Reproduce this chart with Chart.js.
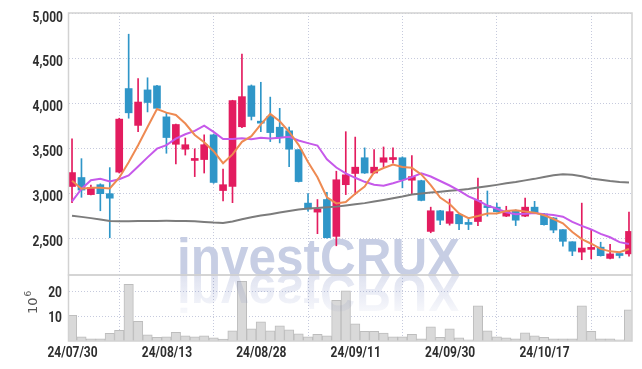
<!DOCTYPE html>
<html><head><meta charset="utf-8">
<script src="https://cdn.jsdelivr.net/npm/chart.js@4.4.0/dist/chart.umd.min.js"></script>
<style>
html,body{margin:0;padding:0;background:#fff;}
#wrap{position:relative;width:642px;height:369px;overflow:hidden;}
canvas{position:absolute;left:0;top:0;}
</style></head><body>
<div id="wrap"><canvas id="main" width="642" height="369"></canvas><canvas id="vol" width="642" height="369"></canvas></div>
<script>
// ---- data ----
const dates = ['24/07/30','24/07/31','24/08/01','24/08/02','24/08/05','24/08/06','24/08/07','24/08/08','24/08/09','24/08/12',
 '24/08/13','24/08/14','24/08/16','24/08/19','24/08/20','24/08/21','24/08/22','24/08/23','24/08/26','24/08/27',
 '24/08/28','24/08/29','24/08/30','24/09/02','24/09/03','24/09/04','24/09/05','24/09/06','24/09/09','24/09/10',
 '24/09/11','24/09/12','24/09/13','24/09/19','24/09/20','24/09/23','24/09/24','24/09/25','24/09/26','24/09/27',
 '24/09/30','24/10/02','24/10/04','24/10/07','24/10/08','24/10/10','24/10/11','24/10/14','24/10/15','24/10/16',
 '24/10/17','24/10/18','24/10/21','24/10/22','24/10/23','24/10/24','24/10/25','24/10/28','24/10/29','24/10/30'];
const dateTickIndex = [0,10,20,30,40,50];
const priceTicks = [2500,3000,3500,4000,4500,5000];
const volumeTicks = [10,20];

const open  = [3080,3180,2990,3100,3000,3240,4170,3760,4155,4200,3855,3550,3495,3370,3380,3655,3035,3080,3745,4200,
               3790,3860,3740,3700,3490,2895,2795,2935,2525,3100,3225,3400,3230,3350,3380,3400,3150,3145,2580,2810,
               2670,2770,2660,2690,2865,2850,2750,2805,2750,2850,2775,2730,2600,2465,2350,2380,2405,2280,2330,2330];
const high  = [3610,3390,3095,3110,3290,3840,4775,4280,4290,4205,3900,3775,3620,3500,3655,3660,3275,4040,4555,4210,
               4240,4075,3950,3740,3490,3000,2935,3015,3250,3690,3630,3510,3490,3520,3510,3410,3425,3150,2850,2815,
               2940,2775,2720,3175,3030,2895,2860,2820,2950,2915,2780,2735,2600,2465,2895,2600,2460,2435,2330,2795];
const low   = [2900,2960,2985,2810,2510,3230,3840,3690,3910,3945,3450,3330,3430,3190,3230,3115,2920,2900,3735,3820,
               3690,3580,3565,3300,3130,2805,2555,2505,2420,2990,2990,3225,3225,3300,3340,3065,2990,2920,2565,2655,
               2650,2600,2600,2645,2750,2795,2745,2645,2745,2780,2650,2565,2415,2310,2265,2275,2305,2275,2285,2305];
const close = [3235,3040,3070,3000,2950,3830,3900,4020,4015,3950,3625,3770,3545,3380,3545,3125,3100,4035,4080,3860,
               3785,3680,3625,3495,3135,2830,2830,2510,3155,3210,3295,3230,3295,3400,3400,3155,3190,2925,2810,2705,
               2800,2665,2658,2925,2845,2800,2805,2705,2850,2785,2655,2595,2470,2360,2395,2395,2310,2330,2312,2580];
const ma5   = [3144,3056,3065,3065,3059,3178,3350,3540,3743,3943,3902,3876,3781,3654,3573,3473,3339,3437,3577,3640,
               3772,3888,3806,3689,3544,3353,3183,2960,2892,2907,3000,3080,3237,3286,3324,3296,3288,3214,3096,2957,
               2886,2781,2728,2751,2779,2779,2807,2816,2801,2789,2760,2718,2671,2573,2495,2443,2386,2358,2348,2385];
const ma10  = [2915,3052,3150,3165,3137,3161,3203,3302,3404,3501,3540,3613,3661,3699,3758,3688,3608,3609,3616,3607,
               3623,3614,3622,3633,3592,3563,3536,3383,3291,3226,3177,3132,3099,3089,3116,3148,3184,3226,3191,3141,
               3091,3035,2971,2924,2868,2833,2794,2772,2776,2784,2770,2763,2744,2687,2642,2602,2552,2515,2461,2440];
const ma60  = [2755,2742,2728,2712,2697,2694,2694,2695,2696,2697,2698,2697,2695,2692,2685,2678,2675,2690,2715,2738,
               2756,2772,2790,2808,2825,2835,2842,2848,2856,2868,2882,2895,2912,2930,2950,2968,2990,3003,3012,3022,
               3032,3042,3053,3068,3082,3098,3115,3130,3148,3165,3185,3205,3215,3210,3195,3170,3155,3140,3130,3125];
const volume = [10.3,1.7,0.9,0.9,3.1,4.3,22.7,7.9,2.5,1.5, 1.7,3.5,2.1,1.7,2.1,1.3,0.8,4.1,23.9,4.9,
                7.7,4.1,6.1,4.5,2.9,1.7,2.7,2.1,16.3,20.1, 6.9,3.9,3.9,3.2,1.7,1.7,2.7,0.9,5.7,1.5,
                4.9,1.3,0.5,14.1,4.1,1.7,1.3,0.9,3.3,2.1, 1.5,0.9,0.9,0.9,14.1,3.9,0.9,0.9,0.5,12.5];

// ---- styling ----
const LABEL_FONT = "bold 15px Roboto, 'DejaVu Sans', sans-serif";
const SX = 0.8;
const RED = '#e31c5f', BLUE = '#2f96c8';
const GRID = '#c6cadd';
const FRAME = '#d2d2d2';
const X_MIN = -0.32, X_MAX = 59.32;
const LEFT_W = 69;
const candleColors = open.map((o,i) => close[i] >= o ? RED : BLUE);
const pts = arr => arr.map((v,i) => ({x:i, y:v}));

function drawLabel(ctx, text, x, y, align){
  ctx.save();
  ctx.font = LABEL_FONT; ctx.fillStyle = '#2e2e2e'; ctx.textBaseline = 'alphabetic'; ctx.textAlign = 'left';
  const w = ctx.measureText(text).width * SX;
  const left = align === 'right' ? x - w : align === 'center' ? x - w/2 : x;
  ctx.translate(left, y); ctx.scale(SX, 1);
  ctx.fillText(text, 0, 0);
  ctx.restore();
}

const frame = {
  id:'frame',
  afterDatasetsDraw(chart){
    const {ctx, chartArea:a} = chart;
    ctx.save();
    ctx.strokeStyle = FRAME; ctx.lineWidth = 1.5;
    ctx.strokeRect(a.left-0.5, a.top, a.right-a.left+0.5, a.bottom-a.top);
    ctx.restore();
  }
};

const mainLabels = {
  id:'mainLabels',
  afterDraw(chart){
    const y = chart.scales.y;
    priceTicks.forEach(v => {
      const py = y.getPixelForValue(v);
      drawLabel(chart.ctx, v.toLocaleString('en-US'), 63, py + (v === 5000 ? 8.5 : 7), 'right');
    });
  }
};

const watermark = {
  id:'watermark',
  beforeDatasetsDraw(chart){
    const {ctx, chartArea:a} = chart;
    ctx.save();
    ctx.beginPath(); ctx.rect(a.left, a.top, a.right-a.left, a.bottom-a.top); ctx.clip();
    ctx.font = "bold 51px 'Liberation Sans', Arial, sans-serif";
    ctx.fillStyle = '#c7cee4';
    ctx.textBaseline = 'alphabetic';
    ctx.translate(177, a.bottom); ctx.scale(0.97, 1);
    ctx.fillText('investCRUX', 0, 0);
    ctx.restore();
  }
};

const volDecor = {
  id:'volDecor',
  afterDatasetsDraw(chart){
    const {ctx, chartArea:a} = chart;
    ctx.save();
    ctx.beginPath(); ctx.rect(a.left, a.top, a.right-a.left, a.bottom-a.top); ctx.clip();
    ctx.translate(177, a.top); ctx.scale(0.97, -1);
    const g = ctx.createLinearGradient(0, 0, 0, -48);
    g.addColorStop(0, 'rgba(70,90,170,0.17)');
    g.addColorStop(0.6, 'rgba(70,90,170,0.08)');
    g.addColorStop(1, 'rgba(70,90,170,0.0)');
    ctx.font = "bold 51px 'Liberation Sans', Arial, sans-serif";
    ctx.fillStyle = g;
    ctx.textBaseline = 'alphabetic';
    ctx.fillText('investCRUX', 0, 0);
    ctx.restore();
  },
  afterDraw(chart){
    const {ctx} = chart;
    const y = chart.scales.y, x = chart.scales.x;
    volumeTicks.forEach(v => drawLabel(ctx, String(v), 62, y.getPixelForValue(v) + 6, 'right'));
    dateTickIndex.forEach(i => drawLabel(ctx, dates[i], x.getPixelForValue(i) + 0.5, 357, 'center'));
    // 10^6 unit label
    ctx.save();
    ctx.translate(37, 314); ctx.rotate(-Math.PI/2);
    ctx.fillStyle = '#555'; ctx.textBaseline = 'alphabetic'; ctx.textAlign = 'left';
    ctx.font = "13px 'DejaVu Sans', sans-serif";
    ctx.fillText('10', 0, 0);
    const w = ctx.measureText('10').width;
    ctx.font = "9px 'DejaVu Sans', sans-serif";
    ctx.fillText('6', w + 1, -6);
    ctx.restore();
  }
};

new Chart(document.getElementById('main'), {
  type:'bar',
  data:{ datasets:[
    {type:'line', data:pts(ma60), borderColor:'#7c7c7c', borderWidth:2, pointRadius:0, order:3},
    {type:'line', data:pts(ma10), borderColor:'#c659ea', borderWidth:2, pointRadius:0, order:2},
    {type:'line', data:pts(ma5),  borderColor:'#ee8a52', borderWidth:2, pointRadius:0, order:1},
    {type:'bar', data:high.map((h,i)=>({x:i, y:[low[i], h]})), backgroundColor:candleColors, barThickness:1, grouped:false, order:11},
    {type:'bar', data:open.map((o,i)=>({x:i, y:[o, close[i]]})), backgroundColor:candleColors, barThickness:7, grouped:false, minBarLength:2, order:10}
  ]},
  options:{
    responsive:false, animation:false,
    layout:{padding:{top:13, right:10, bottom:94, left:0}},
    plugins:{legend:{display:false}, tooltip:{enabled:false}},
    scales:{
      x:{type:'linear', min:X_MIN, max:X_MAX, offset:false,
         grid:{color:GRID, drawTicks:false}, border:{display:false, dash:[1,2]},
         ticks:{display:false},
         afterBuildTicks:s=>{ s.ticks = dateTickIndex.map(v=>({value:v})); },
         afterFit:s=>{ s.height = 0; }},
      y:{min:2095, max:5011,
         grid:{color:GRID, drawTicks:false}, border:{display:false, dash:[1,2]},
         ticks:{display:false},
         afterBuildTicks:s=>{ s.ticks = priceTicks.map(v=>({value:v})); },
         afterFit:s=>{ s.width = LEFT_W; }}
    }
  },
  plugins:[watermark, frame, mainLabels]
});

new Chart(document.getElementById('vol'), {
  type:'bar',
  data:{ datasets:[
    {data:pts(volume), backgroundColor:'#d9d9d9', borderColor:'#bdbdbd', borderWidth:1, barPercentage:1, categoryPercentage:1}
  ]},
  options:{
    responsive:false, animation:false,
    layout:{padding:{top:275, right:10, bottom:0, left:0}},
    plugins:{legend:{display:false}, tooltip:{enabled:false}},
    scales:{
      x:{type:'linear', min:X_MIN, max:X_MAX, offset:false,
         grid:{color:GRID, drawTicks:false}, border:{display:false, dash:[1,2]},
         ticks:{display:false},
         afterBuildTicks:s=>{ s.ticks = dateTickIndex.map(v=>({value:v})); },
         afterFit:s=>{ s.height = 28; }},
      y:{min:0, max:26.4,
         grid:{color:GRID, drawTicks:false}, border:{display:false, dash:[1,2]},
         ticks:{display:false},
         afterBuildTicks:s=>{ s.ticks = volumeTicks.map(v=>({value:v})); },
         afterFit:s=>{ s.width = LEFT_W; }}
    }
  },
  plugins:[volDecor, frame]
});
</script>
</body></html>
